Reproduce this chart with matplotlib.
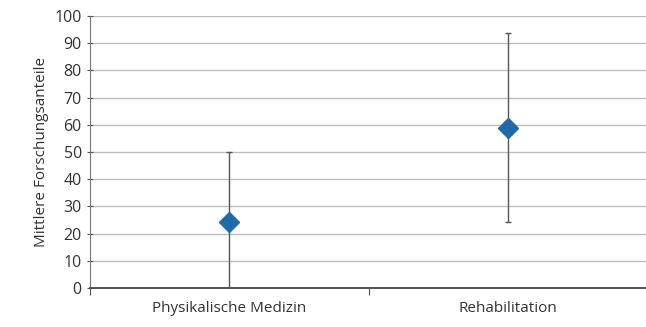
import numpy as np
import matplotlib.pyplot as plt

plt.rcParams['font.family'] = ['Open Sans', 'DejaVu Sans']

categories = ["Physikalische Medizin", "Rehabilitation"]
means = np.array([24.3, 58.8])
lower = np.array([0.0, 24.3])
upper = np.array([50.0, 93.8])

fig = plt.figure(figsize=(6.46, 3.27), dpi=100)
ax = fig.add_axes([89.5 / 646, 1 - 288 / 327, (647.5 - 89.5) / 646, (288 - 16) / 327])

x = np.arange(len(categories))
ax.errorbar(x, means, yerr=[means - lower, upper - means], fmt='none',
            ecolor='#555555', elinewidth=1, capsize=2, capthick=1, zorder=3)
ax.plot(x, means, 'D', color='#1f6aa8', markersize=10.5, zorder=4)

ax.set_xlim(-0.5, 1.5)
ax.set_ylim(0, 100)
ax.set_yticks(np.arange(0, 101, 10))
ax.yaxis.grid(True, color='#bdbdbd', linewidth=1)
ax.set_axisbelow(True)

ax.set_xticks([-0.5, 0.5, 1.5])
ax.set_xticklabels([])
ax.set_xticks(x, minor=True)
ax.set_xticklabels(categories, minor=True)
ax.tick_params(axis='x', which='minor', length=0, pad=9, labelsize=11, colors='#333333')
ax.tick_params(axis='x', which='major', length=5, color='#555555', direction='out')
ax.tick_params(axis='y', length=5, color='#555555', direction='inout', labelsize=11.5,
               labelcolor='#333333', pad=3)

for s in ['top', 'right']:
    ax.spines[s].set_visible(False)
ax.spines['left'].set_color('#777777')
ax.spines['bottom'].set_color('#444444')
ax.spines['bottom'].set_linewidth(1.3)

ax.set_ylabel("Mittlere Forschungsanteile", fontsize=11, color='#333333', labelpad=4)

fig.savefig("out.png", dpi=100)
